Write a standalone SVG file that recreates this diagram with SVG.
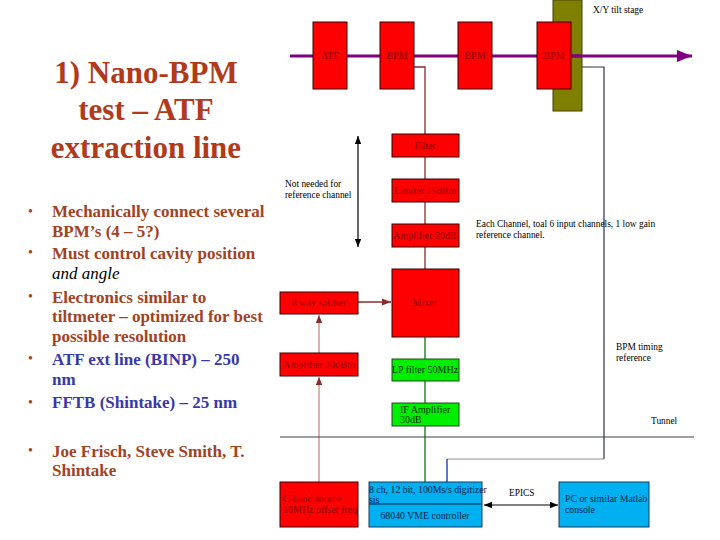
<svg xmlns="http://www.w3.org/2000/svg" width="720" height="540" viewBox="0 0 720 540">
<style>
.title{font-family:"Liberation Serif","Times New Roman",serif;font-weight:bold;font-size:31px;fill:#b03a1a;text-anchor:middle}
.bul{font-family:"Liberation Serif","Times New Roman",serif;font-weight:bold;font-size:17px;fill:#a3421f}
.blue{fill:#3838a8}
.dot{font-family:"Liberation Serif",serif;font-size:14px;fill:#a3421f}
.it{font-family:"Liberation Serif","Times New Roman",serif;font-style:italic;font-size:17px;fill:#000}
.red{fill:#ff0000;stroke:#3a0000;stroke-width:1}
.grn{fill:#00ee00;stroke:#1a4a1a;stroke-width:1}
.cyan{fill:#00b0f0;stroke:#1a3a5a;stroke-width:1}
.lbl{font-family:"Liberation Serif",serif;font-size:10px;fill:#8a0000}
.lblc{font-family:"Liberation Serif",serif;font-size:10px;fill:#8a0000;text-anchor:middle}
.note{font-family:"Liberation Serif",serif;font-size:9.4px;fill:#000}
.gl{font-family:"Liberation Serif",serif;font-size:10px;fill:#103010}
.bl{font-family:"Liberation Serif",serif;font-size:9.8px;fill:#08204a}
.dr{stroke:#8b2a2a;stroke-width:1.3;fill:none}
.lr{stroke:#c08080;stroke-width:1.2;fill:none}
.gn{stroke:#2a8a2a;stroke-width:1.5;fill:none}
.bk{stroke:#000;stroke-width:1.2;fill:none}
</style>
<defs>
<marker id="ahR" viewBox="0 0 10 10" refX="10" refY="5" markerWidth="7" markerHeight="7" orient="auto-start-reverse"><path d="M0,1 L10,5 L0,9 z" fill="#8b2a2a"/></marker>
<marker id="ahK" viewBox="0 0 10 10" refX="10" refY="5" markerWidth="7" markerHeight="7" orient="auto-start-reverse"><path d="M0,1 L10,5 L0,9 z" fill="#000"/></marker>
<marker id="ahP" viewBox="0 0 10 10" refX="10" refY="5" markerWidth="5" markerHeight="5" orient="auto"><path d="M0,1 L10,5 L0,9 z" fill="#800080"/></marker>
</defs>
<rect width="720" height="540" fill="#fff"/>

<g id="slide-text">
<text class="title" x="146" y="83">1) Nano-BPM</text>
<text class="title" x="146" y="120">test – ATF</text>
<text class="title" x="146" y="158">extraction line</text>
<text class="dot" x="28" y="216">•</text>
<text class="bul" x="52" y="217">Mechanically connect several</text>
<text class="bul" x="52" y="237">BPM’s (4 – 5?)</text>
<text class="dot" x="28" y="257">•</text>
<text class="bul" x="52" y="259">Must control cavity position</text>
<text class="it" x="52" y="279">and angle</text>
<text class="dot" x="28" y="301">•</text>
<text class="bul" x="52" y="303">Electronics similar to</text>
<text class="bul" x="52" y="322">tiltmeter – optimized for best</text>
<text class="bul" x="52" y="342">possible resolution</text>
<text class="dot blue" x="28" y="363">•</text>
<text class="bul blue" x="52" y="365">ATF ext line (BINP) – 250</text>
<text class="bul blue" x="52" y="385">nm</text>
<text class="dot blue" x="28" y="407">•</text>
<text class="bul blue" x="52" y="408">FFTB (Shintake) – 25 nm</text>
<text class="dot" x="28" y="455">•</text>
<text class="bul" x="52" y="457">Joe Frisch, Steve Smith, T.</text>
<text class="bul" x="52" y="476">Shintake</text>
</g>

<g id="stage">
<rect x="553" y="0" width="29" height="111" fill="#808000" stroke="#404000" stroke-width="1"/>
<text class="note" x="593" y="13">X/Y tilt stage</text>
</g>

<g id="connectors">
<line x1="290" y1="56" x2="692" y2="56" stroke="#800080" stroke-width="3" marker-end="url(#ahP)"/>
<polyline class="dr" points="414,67 425,67 425,134"/>
<line class="dr" x1="425" y1="157" x2="425" y2="179"/>
<line class="dr" x1="425" y1="202" x2="425" y2="224"/>
<line class="dr" x1="425" y1="247" x2="425" y2="269"/>
<line class="gn" x1="425" y1="337" x2="425" y2="359"/>
<line class="gn" x1="425" y1="381" x2="425" y2="403"/>
<line class="gn" x1="425" y1="426" x2="425" y2="482"/>
<line class="dr" x1="358" y1="302" x2="391" y2="302" marker-end="url(#ahR)"/>
<line class="lr" x1="319" y1="353" x2="319" y2="315" marker-end="url(#ahR)"/>
<line class="lr" x1="319" y1="482" x2="319" y2="377" marker-end="url(#ahR)"/>
<line class="bk" x1="358" y1="136" x2="358" y2="247" marker-start="url(#ahK)" marker-end="url(#ahK)"/>
<polyline points="582,67 604,67 604,459" fill="none" stroke="#303050" stroke-width="1.2"/>
<line x1="604" y1="459" x2="447" y2="459" stroke="#909090" stroke-width="1.2"/>
<line x1="447" y1="459" x2="447" y2="482" stroke="#1030a0" stroke-width="1.3"/>
<line x1="280" y1="437" x2="694" y2="437" stroke="#404050" stroke-width="1.2"/>
<line class="bk" x1="484" y1="505" x2="558" y2="505" marker-start="url(#ahK)" marker-end="url(#ahK)"/>
</g>

<g id="atf"><rect class="red" x="313" y="22" width="34" height="67"/><text class="lblc" x="330" y="59" font-size="9.5px">ATF</text></g>
<g id="bpm1"><rect class="red" x="380" y="22" width="34" height="67"/><text class="lblc" x="397" y="59" font-size="9.5px">BPM</text></g>
<g id="bpm2"><rect class="red" x="458" y="22" width="34" height="67"/><text class="lblc" x="475" y="59" font-size="9.5px">BPM</text></g>
<g id="bpm3"><rect class="red" x="537" y="22" width="34" height="67"/><text class="lblc" x="554" y="59" font-size="9.5px">BPM</text></g>
<line x1="571" y1="56" x2="582" y2="56" stroke="#800080" stroke-width="3"/>

<g id="filter"><rect class="red" x="392" y="134" width="67" height="23"/><text class="lblc" x="425" y="149">Filter</text></g>
<g id="limiter"><rect class="red" x="392" y="179" width="67" height="23"/><text class="lblc" x="425" y="194">Limiter 15dBm</text></g>
<g id="amp20"><rect class="red" x="392" y="224" width="67" height="23"/><text class="lblc" x="425" y="239">Amplifier 20dB</text></g>
<g id="mixer"><rect class="red" x="392" y="269" width="67" height="68"/><text class="lblc" x="425" y="306">Mixer</text></g>
<g id="splitter"><rect class="red" x="280" y="292" width="78" height="22"/><text class="lblc" x="319" y="306">8 way splitter</text></g>
<g id="amp30"><rect class="red" x="280" y="353" width="78" height="23"/><text class="lblc" x="319" y="368">Amplifier 30dBm</text></g>
<g id="cband"><rect class="red" x="280" y="482" width="78" height="45"/><text class="lbl" x="283" y="502">C-band source</text><text class="lbl" x="283" y="513">10MHz offset freq</text></g>
<g id="lpfilter"><rect class="grn" x="392" y="359" width="67" height="22"/><text class="gl" x="425" y="373" text-anchor="middle">LP filter 50MHz</text></g>
<g id="ifamp"><rect class="grn" x="392" y="403" width="67" height="23"/><text class="gl" x="400" y="413">IF Amplifier</text><text class="gl" x="400" y="423">30dB</text></g>
<g id="digitizer"><rect class="cyan" x="369" y="482" width="113" height="45"/><line x1="369" y1="504" x2="482" y2="504" stroke="#08204a" stroke-width="1"/><text class="bl" x="369" y="493">8 ch, 12 bit, 100Ms/s digitizer</text><text class="bl" x="369" y="503" font-size="8px">sis</text><text class="bl" x="425" y="519" text-anchor="middle">68040 VME controller</text></g>
<g id="pc"><rect class="cyan" x="559" y="482" width="90" height="45"/><text class="bl" x="565" y="502">PC or similar Matlab</text><text class="bl" x="565" y="513">console</text></g>

<g id="labels">
<text class="note" x="285" y="187">Not needed for</text>
<text class="note" x="285" y="198">reference channel</text>
<text class="note" x="476" y="227">Each Channel, toal 6 input channels, 1 low gain</text>
<text class="note" x="476" y="238">reference channel.</text>
<text class="note" x="616" y="350">BPM timing</text>
<text class="note" x="616" y="361">reference</text>
<text class="note" x="651" y="424">Tunnel</text>
<text class="note" x="509" y="496">EPICS</text>
</g>
</svg>
